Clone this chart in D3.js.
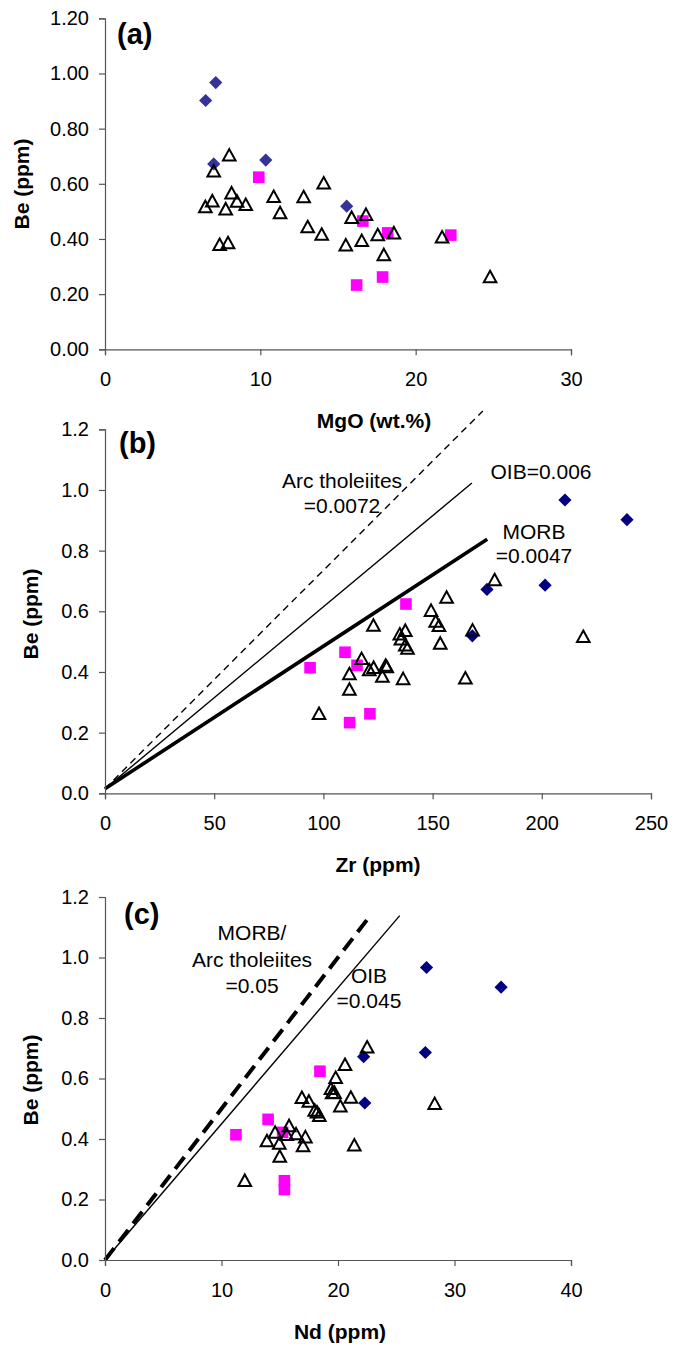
<!DOCTYPE html>
<html>
<head>
<meta charset="utf-8">
<script src="https://cdn.jsdelivr.net/npm/d3@7"></script>
<style>
  html, body { margin: 0; padding: 0; background: #ffffff; }
  svg { display: block; }
  text { font-family: "Liberation Sans", Arial, Helvetica, sans-serif; }
</style>
</head>
<body>
<svg id="chart" width="675" height="1351"></svg>
<script>
// ---- sample groups: open triangles ----
const triangleBe  = [0.704, 0.646, 0.567, 0.538, 0.517, 0.509, 0.537, 0.525, 0.554, 0.495, 0.553, 0.603, 0.444,
                     0.417, 0.378, 0.380, 0.386, 0.478, 0.489, 0.394, 0.415, 0.422, 0.343, 0.407, 0.263];
const triangleMgO = [8.0, 7.0, 8.15, 6.91, 6.46, 7.77, 8.5, 9.06, 10.86, 11.27, 12.79, 14.08, 13.05,
                     13.95, 15.5, 7.38, 7.92, 15.88, 16.8, 16.53, 17.56, 18.6, 17.95, 21.7, 24.79];
const triangleZr  = [178.4, 156.4, 151.4, 168.3, 219, 135.5, 137.5, 135, 122.9, 153.5, 152.9, 149.3, 117.5,
                     129, 136.5, 165, 127, 138.5, 137.5, 111.9, 123, 128.5, 111.9, 121, 98];
const triangleNd  = [22.5, 20.6, 19.4, 21.1, 28.3, 20.2, 16.9, 17.5, 19.7, 18.0, 19.5, 19.8, 15.8,
                     16.4, 17.0, 21.4, 14.96, 18.4, 18.2, 13.9, 15.6, 14.6, 15.0, 17.2, 12.0];

// ---- magenta squares ----
const squareBe  = [0.624, 0.465, 0.422, 0.414, 0.233, 0.262];
const squareMgO = [9.9, 16.6, 18.2, 22.26, 16.2, 17.87];
const squareZr  = [137.8, 109.9, 115.4, 93.9, 112, 121.3];
const squareNd  = [18.45, 14.0, 15.25, 11.24, 15.4, 15.4];

// ---- blue diamonds ----
const diamondBe  = [0.967, 0.902, 0.672, 0.686, 0.519];
const diamondMgO = [7.13, 6.48, 7.0, 10.35, 15.56];
const diamondZr  = [210.6, 239, 174.9, 201.5, 168.2];
const diamondNd  = [27.6, 34.0, 22.2, 27.5, 22.3];

// ---- axis ticks ----
const beTicks  = [0, 0.2, 0.4, 0.6, 0.8, 1.0, 1.2];
const mgoTicks = [0, 10, 20, 30];
const zrTicks  = [0, 50, 100, 150, 200, 250];
const ndTicks  = [0, 10, 20, 30, 40];

// ---- Be/Zr and Be/Nd reference ratios ----
const zrRatioNames  = ["Arc tholeiites", "OIB", "MORB"];
const zrRatios      = [0.0072, 0.006, 0.0047];
const zrRatioXEnd   = [173, 168, 175];
const zrRatioOffset = 0.015;
const ndRatioNames  = ["MORB/Arc tholeiites", "OIB"];
const ndRatios      = [0.05, 0.045];
const ndRatioXEnd   = [22.6, 25.3];

const svg = d3.select("#chart");
const FONT = '"Liberation Sans", Arial, Helvetica, sans-serif';

function zip(xs, ys) { return xs.map((v, i) => ({ x: v, y: ys[i] })); }

function trianglePath(cx, cy) {
  const p = d3.path();
  p.moveTo(cx, cy - 6);
  p.lineTo(cx + 6.3, cy + 5.5);
  p.lineTo(cx - 6.3, cy + 5.5);
  p.closePath();
  return p.toString();
}
function diamondPath(cx, cy) {
  const r = 6.6, p = d3.path();
  p.moveTo(cx, cy - r); p.lineTo(cx + r, cy); p.lineTo(cx, cy + r); p.lineTo(cx - r, cy); p.closePath();
  return p.toString();
}

function drawPanel(cfg) {
  const x = d3.scaleLinear().domain(cfg.xDomain).range(cfg.xRange);
  const y = d3.scaleLinear().domain([0, 1.2]).range(cfg.yRange);
  const g = svg.append("g");

  // reference ratio lines
  (cfg.lines || []).forEach(l => {
    g.append("line")
      .attr("x1", x(0)).attr("y1", y(l.offset))
      .attr("x2", x(l.xEnd)).attr("y2", y(l.offset + l.slope * l.xEnd))
      .attr("stroke", "#000").attr("stroke-width", l.width)
      .attr("stroke-dasharray", l.dash || null)
      .attr("stroke-linecap", "butt");
  });

  // axes
  const xAxis = g.append("g")
    .attr("transform", `translate(0,${cfg.yRange[0]})`)
    .call(d3.axisBottom(x).tickValues(cfg.xTicks).tickFormat(d3.format("d"))
      .tickSizeOuter(0).tickSize(6).tickPadding(17));
  const yAxis = g.append("g")
    .attr("transform", `translate(${cfg.xRange[0]},0)`)
    .call(d3.axisLeft(y).tickValues(beTicks).tickFormat(d3.format(cfg.yFormat))
      .tickSizeOuter(0).tickSize(6).tickPadding(10));
  [xAxis, yAxis].forEach(a => {
    a.attr("font-family", FONT).attr("font-size", 20);
    a.select(".domain").attr("stroke", "#555").attr("stroke-width", 1.2);
    a.selectAll(".tick line").attr("stroke", "#555").attr("stroke-width", 1.2);
    a.selectAll(".tick text").attr("fill", "#000");
  });

  // markers: diamonds, squares, then open triangles
  g.append("g").selectAll("path").data(zip(cfg.diamondX, diamondBe)).join("path")
    .attr("d", d => diamondPath(x(d.x), y(d.y)))
    .attr("fill", cfg.diamondColor);
  g.append("g").selectAll("rect").data(zip(cfg.squareX, squareBe)).join("rect")
    .attr("x", d => x(d.x) - 5.8).attr("y", d => y(d.y) - 5.8)
    .attr("width", 11.6).attr("height", 11.6)
    .attr("fill", "#ff00ff");
  g.append("g").selectAll("path").data(zip(cfg.triangleX, triangleBe)).join("path")
    .attr("d", d => trianglePath(x(d.x), y(d.y)))
    .attr("fill", "none").attr("stroke", "#000").attr("stroke-width", 2)
    .attr("stroke-linejoin", "miter");

  // axis titles
  g.append("text")
    .attr("transform", `translate(${cfg.yTitle[0]},${cfg.yTitle[1]}) rotate(-90)`)
    .attr("text-anchor", "middle").attr("font-weight", "bold").attr("font-size", 21)
    .text("Be (ppm)");
  g.append("text")
    .attr("x", cfg.xTitle[0]).attr("y", cfg.xTitle[1])
    .attr("text-anchor", "middle").attr("font-weight", "bold").attr("font-size", 21)
    .text(cfg.xLabel);

  // panel letter
  g.append("text")
    .attr("x", cfg.letterPos[0]).attr("y", cfg.letterPos[1])
    .attr("font-weight", "bold").attr("font-size", 29)
    .text(cfg.letter);

  // annotations
  (cfg.notes || []).forEach(n => {
    g.append("text")
      .attr("x", n[1]).attr("y", n[2])
      .attr("text-anchor", "middle").attr("font-size", 21)
      .text(n[0]);
  });
}

// (a) Be vs MgO
drawPanel({
  xDomain: [0, 30], xRange: [105, 571], yRange: [349.3, 18.3],
  xTicks: mgoTicks, yFormat: ".2f", xLabel: "MgO (wt.%)",
  triangleX: triangleMgO, squareX: squareMgO, diamondX: diamondMgO,
  diamondColor: "#333399",
  yTitle: [29, 184], xTitle: [374, 428],
  letter: "(a)", letterPos: [117, 44]
});

// (b) Be vs Zr
drawPanel({
  xDomain: [0, 250], xRange: [105, 651], yRange: [793.3, 429.3],
  xTicks: zrTicks, yFormat: ".1f", xLabel: "Zr (ppm)",
  triangleX: triangleZr, squareX: squareZr, diamondX: diamondZr,
  diamondColor: "#000080",
  yTitle: [38, 614], xTitle: [378, 872],
  letter: "(b)", letterPos: [119, 453],
  lines: [
    { slope: zrRatios[0], xEnd: zrRatioXEnd[0], offset: zrRatioOffset, width: 1.4, dash: "7,5" },
    { slope: zrRatios[1], xEnd: zrRatioXEnd[1], offset: zrRatioOffset, width: 1.4 },
    { slope: zrRatios[2], xEnd: zrRatioXEnd[2], offset: zrRatioOffset, width: 3.6 }
  ],
  notes: [
    [zrRatioNames[0], 342, 488], ["=" + zrRatios[0], 342, 513],
    [zrRatioNames[1] + "=" + zrRatios[1], 541, 479],
    [zrRatioNames[2], 534, 539], ["=" + zrRatios[2], 534, 563]
  ]
});

// (c) Be vs Nd
drawPanel({
  xDomain: [0, 40], xRange: [105, 571], yRange: [1260, 897],
  xTicks: ndTicks, yFormat: ".1f", xLabel: "Nd (ppm)",
  triangleX: triangleNd, squareX: squareNd, diamondX: diamondNd,
  diamondColor: "#000080",
  yTitle: [38, 1080], xTitle: [340, 1339],
  letter: "(c)", letterPos: [124, 924],
  lines: [
    { slope: ndRatios[0], xEnd: ndRatioXEnd[0], offset: 0, width: 4, dash: "15,8" },
    { slope: ndRatios[1], xEnd: ndRatioXEnd[1], offset: 0, width: 1.4 }
  ],
  notes: [
    ["MORB/", 252, 940], ["Arc tholeiites", 252, 966.5], ["=" + ndRatios[0], 252, 993],
    [ndRatioNames[1], 369, 983], ["=" + ndRatios[1], 369, 1008]
  ]
});
</script>
</body>
</html>
